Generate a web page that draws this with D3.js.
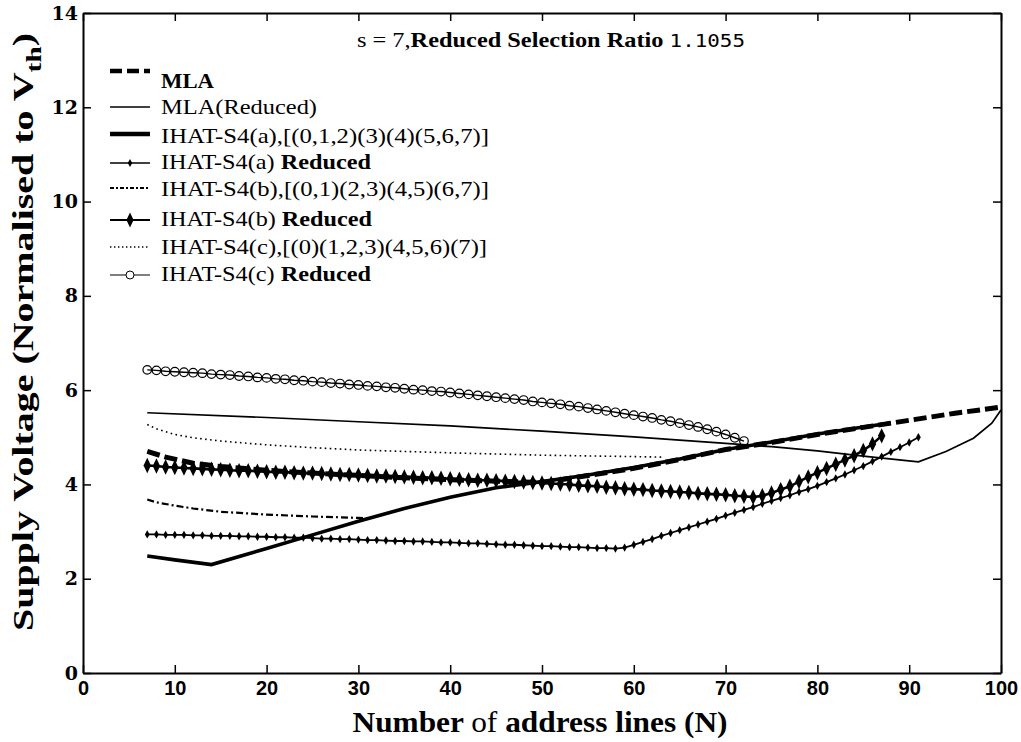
<!DOCTYPE html>
<html><head><meta charset="utf-8">
<script src="https://cdn.jsdelivr.net/npm/d3@7"></script>
<style>body{margin:0;background:#fff;} svg{display:block;} .sf{font-family:"Liberation Serif","Times New Roman",Times,serif;}</style>
</head><body>
<svg id="chart" width="1021" height="742"></svg>
<script>
// ---------- data ----------
const xTicks = [0,10,20,30,40,50,60,70,80,90,100];
const yTicks = [0,2,4,6,8,10,12,14];

const mlaN = [7,9,12,15,20,25,30,35,40,45,50,55,60,65,70,75,80,85,90,95,100];
const mlaV = [4.70,4.58,4.45,4.38,4.30,4.24,4.19,4.14,4.10,4.07,4.04,4.19,4.34,4.53,4.74,4.89,5.06,5.21,5.36,5.51,5.64];

const mlaRedN = [7,20,30,40,50,60,70,75,80,85,91,94,97,99,100];
const mlaRedV = [5.52,5.42,5.33,5.24,5.13,5.01,4.87,4.80,4.71,4.60,4.48,4.70,4.98,5.30,5.58];

const aN = [7,10,14,20,25,30,35,40,45,50,55,60,65,70,75,80,85,88];
const aV = [2.48,2.40,2.30,2.64,2.93,3.22,3.49,3.73,3.93,4.06,4.20,4.36,4.54,4.74,4.90,5.07,5.22,5.30];

const bN = [7,8,10,12,15,20,25,30,31];
const bV = [3.68,3.62,3.55,3.49,3.42,3.36,3.32,3.29,3.28];

const cN = [7,8,10,12,15,20,25,30,40,50,60,63];
const cV = [5.27,5.18,5.06,4.99,4.92,4.84,4.78,4.73,4.67,4.62,4.59,4.58];

// reduced series, one value per N (N starts at 7)
const aRedStart = 7;
const aRedV = [2.94,2.94,2.93,2.93,2.93,2.92,2.92,2.91,2.91,2.91,2.90,2.90,2.89,2.89,2.88,2.88,2.87,2.87,2.86,2.85,
 2.85,2.84,2.84,2.83,2.82,2.82,2.81,2.80,2.80,2.79,2.79,2.78,2.77,2.77,2.76,2.75,2.75,2.74,2.73,2.72,
 2.72,2.71,2.70,2.69,2.69,2.68,2.67,2.67,2.66,2.65,2.65,2.64,2.66,2.72,2.78,2.84,2.91,2.97,3.03,3.09,
 3.15,3.21,3.27,3.34,3.40,3.46,3.52,3.59,3.65,3.71,3.77,3.84,3.90,3.97,4.05,4.13,4.21,4.30,4.39,4.49,
 4.59,4.69,4.79,4.89,5.00];

const bRedStart = 7;
const bRedV = [4.40,4.39,4.37,4.36,4.35,4.34,4.33,4.32,4.31,4.30,4.29,4.29,4.28,4.27,4.26,4.26,4.25,4.24,4.24,4.23,
 4.22,4.21,4.21,4.20,4.19,4.18,4.18,4.17,4.16,4.15,4.14,4.14,4.13,4.12,4.11,4.10,4.09,4.09,4.08,4.07,
 4.06,4.05,4.04,4.03,4.02,4.01,4.00,3.98,3.97,3.96,3.94,3.93,3.91,3.90,3.89,3.87,3.86,3.85,3.84,3.83,
 3.81,3.80,3.79,3.78,3.76,3.75,3.73,3.76,3.82,3.89,3.96,4.06,4.16,4.25,4.34,4.43,4.52,4.61,4.72,4.86,5.03];

const cRedStart = 7;
const cRedV = [6.43,6.42,6.40,6.39,6.38,6.37,6.36,6.34,6.33,6.32,6.30,6.29,6.27,6.26,6.24,6.23,6.21,6.20,6.18,6.17,
 6.15,6.14,6.12,6.11,6.09,6.08,6.06,6.05,6.03,6.01,6.00,5.98,5.97,5.95,5.93,5.91,5.89,5.87,5.85,5.83,
 5.81,5.79,5.76,5.74,5.72,5.70,5.67,5.65,5.62,5.59,5.56,5.53,5.50,5.47,5.44,5.41,5.37,5.34,5.30,5.26,
 5.22,5.17,5.12,5.06,4.99,4.92];

const legendLabels = [
  [["MLA","bold"]],
  [["MLA(Reduced)","normal"]],
  [["IHAT-S4(a),[(0,1,2)(3)(4)(5,6,7)]","normal"]],
  [["IHAT-S4(a) ","normal"],["Reduced","bold"]],
  [["IHAT-S4(b),[(0,1)(2,3)(4,5)(6,7)]","normal"]],
  [["IHAT-S4(b) ","normal"],["Reduced","bold"]],
  [["IHAT-S4(c),[(0)(1,2,3)(4,5,6)(7)]","normal"]],
  [["IHAT-S4(c) ","normal"],["Reduced","bold"]]
];

// ---------- layout ----------
const W = 1021, H = 742;
const m = {left:83, right:20, top:13, bottom:69};
const svg = d3.select("#chart");
const x = d3.scaleLinear().domain([0,100]).range([m.left, W-m.right]);
const y = d3.scaleLinear().domain([0,14]).range([H-m.bottom, m.top]);

const zip = (N,V) => N.map((n,i)=>({n, v:V[i]}));
const seq = (start,V) => V.map((v,i)=>({n:start+i, v}));
const line = d3.line().x(d=>x(d.n)).y(d=>y(d.v));

// ---------- axes ----------
const tickLen = 8;
const gx = svg.append("g").attr("transform",`translate(0,${y(0)})`)
  .call(d3.axisBottom(x).tickValues(xTicks).tickSizeInner(-tickLen).tickSizeOuter(0).tickPadding(8));
const gxt = svg.append("g").attr("transform",`translate(0,${y(14)})`)
  .call(d3.axisTop(x).tickValues(xTicks).tickSizeInner(-tickLen).tickSizeOuter(0).tickFormat(""));
const gy = svg.append("g").attr("transform",`translate(${x(0)},0)`)
  .call(d3.axisLeft(y).tickValues(yTicks).tickSizeInner(-tickLen).tickSizeOuter(0).tickPadding(4));
const gyr = svg.append("g").attr("transform",`translate(${x(100)},0)`)
  .call(d3.axisRight(y).tickValues(yTicks).tickSizeInner(-tickLen).tickSizeOuter(0).tickFormat(""));
[gx,gxt,gy,gyr].forEach(g=>{
  g.select(".domain").attr("stroke","#000").attr("stroke-width",2);
  g.selectAll(".tick line").attr("stroke","#000").attr("stroke-width",1.5);
});
gx.selectAll(".tick text").attr("font-family","Liberation Sans Narrow, Liberation Sans, Arial, sans-serif")
  .attr("font-weight","bold").attr("font-size",20).attr("fill","#000");
gy.selectAll(".tick text").attr("font-family","DejaVu Serif, serif")
  .attr("font-weight","bold").attr("font-size",19).attr("fill","#000").attr("dx",-1);

// ---------- series ----------
const plot = svg.append("g");
// c dotted
plot.append("path").datum(zip(cN,cV)).attr("d",line).attr("fill","none").attr("stroke","#000")
  .attr("stroke-width",1.6).attr("stroke-dasharray","1.6,3.4");
// b dash-dot
plot.append("path").datum(zip(bN,bV)).attr("d",line).attr("fill","none").attr("stroke","#000")
  .attr("stroke-width",2.2).attr("stroke-dasharray","7,3,2,3");
// MLA reduced
plot.append("path").datum(zip(mlaRedN,mlaRedV)).attr("d",line).attr("fill","none").attr("stroke","#000")
  .attr("stroke-width",1.7);
// c reduced with circles
const cRed = seq(cRedStart,cRedV);
plot.append("path").datum(cRed).attr("d",line).attr("fill","none").attr("stroke","#000").attr("stroke-width",1.4);
plot.selectAll(".cc").data(cRed).enter().append("circle")
  .attr("cx",d=>x(d.n)).attr("cy",d=>y(d.v)).attr("r",4.3)
  .attr("fill","none").attr("stroke","#000").attr("stroke-width",1.2);
// a reduced with small markers
const aRed = seq(aRedStart,aRedV);
plot.append("path").datum(aRed).attr("d",line).attr("fill","none").attr("stroke","#000").attr("stroke-width",1.8);
plot.selectAll(".am").data(aRed).enter().append("path")
  .attr("transform",d=>`translate(${x(d.n)},${y(d.v)})`)
  .attr("d",d3.symbol(d3.symbolDiamond,20)).attr("fill","#000");
// b reduced with diamonds
const bRed = seq(bRedStart,bRedV);
plot.append("path").datum(bRed).attr("d",line).attr("fill","none").attr("stroke","#000").attr("stroke-width",2.6);
plot.selectAll(".bm").data(bRed).enter().append("path")
  .attr("transform",d=>`translate(${x(d.n)},${y(d.v)}) scale(1,1.2)`)
  .attr("d",d3.symbol(d3.symbolDiamond,48)).attr("fill","#000");
// a thick solid
plot.append("path").datum(zip(aN,aV)).attr("d",line).attr("fill","none").attr("stroke","#000")
  .attr("stroke-width",3.6);
// MLA thick dashed
plot.append("path").datum(zip(mlaN,mlaV)).attr("d",line).attr("fill","none").attr("stroke","#000")
  .attr("stroke-width",5).attr("stroke-dasharray","13,5");

// ---------- legend ----------
const lx0 = 110, lx1 = 150, tx = 161;
const lineY = [71,107,134,163,188,220,247,275];
const textY = [80,106,135,161,188,218,246,273];
const textW = [53,156,328,210,328,211,326,210];
const leg = svg.append("g");
const styles = [
  {w:4.5, dash:"12,5"},
  {w:1.6},
  {w:4.5},
  {w:1.4, mark:"small"},
  {w:2, dash:"4,2,2,2"},
  {w:2, mark:"diamond"},
  {w:1.4, dash:"1.4,2.6"},
  {w:1.2, mark:"circle"}
];
styles.forEach((s,i)=>{
  const yy = lineY[i];
  leg.append("line").attr("x1",lx0).attr("x2",lx1).attr("y1",yy).attr("y2",yy)
    .attr("stroke","#000").attr("stroke-width",s.w).attr("stroke-dasharray",s.dash||null);
  const mx = (lx0+lx1)/2;
  if(s.mark==="small") leg.append("path").attr("transform",`translate(${mx},${yy})`).attr("d",d3.symbol(d3.symbolDiamond,18));
  if(s.mark==="diamond") leg.append("path").attr("transform",`translate(${mx},${yy}) scale(1,1.2)`).attr("d",d3.symbol(d3.symbolDiamond,44));
  if(s.mark==="circle") leg.append("circle").attr("cx",mx).attr("cy",yy).attr("r",4).attr("fill","#fff").attr("stroke","#000");
  const t = leg.append("text").attr("class","sf").attr("x",tx).attr("y",textY[i]).attr("dy","0.35em")
    .attr("font-size",22).attr("fill","#000")
    .attr("textLength",textW[i]).attr("lengthAdjust","spacingAndGlyphs");
  legendLabels[i].forEach(([s2,wt])=>t.append("tspan").attr("font-weight",wt).text(s2));
});

// ---------- title ----------
const title = svg.append("text").attr("class","sf").attr("x",357).attr("y",40).attr("dy","0.35em")
  .attr("font-size",21).attr("fill","#000")
  .attr("textLength",388).attr("lengthAdjust","spacingAndGlyphs");
title.append("tspan").text("s = 7,");
title.append("tspan").attr("font-weight","bold").text("Reduced Selection Ratio ");
title.append("tspan").attr("font-family","DejaVu Sans Mono, monospace").attr("font-size",18).text("1.1055");

// ---------- axis titles ----------
const xt = svg.append("text").attr("class","sf").attr("x",540).attr("y",732).attr("text-anchor","middle")
  .attr("font-size",29).attr("font-weight","bold").attr("fill","#000")
  .attr("textLength",375).attr("lengthAdjust","spacingAndGlyphs");
xt.append("tspan").text("Number ");
xt.append("tspan").attr("font-weight","normal").text("of ");
xt.append("tspan").text("address lines (N)");

const yt = svg.append("text").attr("class","sf").attr("transform","translate(33,332) rotate(-90)").attr("text-anchor","middle")
  .attr("font-size",30).attr("font-weight","bold").attr("fill","#000")
  .attr("textLength",598).attr("lengthAdjust","spacingAndGlyphs");
yt.append("tspan").text("Supply Voltage (Normalised to V");
yt.append("tspan").attr("font-size",22).attr("dy",8).text("th");
yt.append("tspan").attr("dy",-8).text(")");
</script>
</body></html>
